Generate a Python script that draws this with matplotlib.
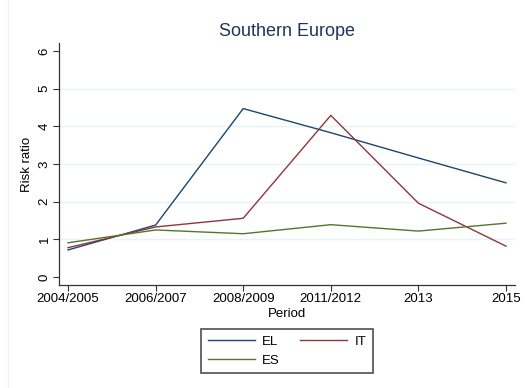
import matplotlib
matplotlib.use("Agg")
import matplotlib.pyplot as plt
from matplotlib.lines import Line2D

plt.rcParams['font.family'] = ['Liberation Sans', 'DejaVu Sans']

periods = ["2004/2005", "2006/2007", "2008/2009", "2011/2012", "2013", "2015"]
el = [0.72, 1.38, 4.47, 3.83, 3.16, 2.50]
it = [0.78, 1.33, 1.56, 4.29, 1.96, 0.82]
es = [0.91, 1.25, 1.15, 1.39, 1.22, 1.43]
yticks = [0, 1, 2, 3, 4, 5, 6]

fig = plt.figure(figsize=(5.31, 3.88), dpi=100)
ax = fig.add_axes([59 / 531, 1 - 285 / 388, (515 - 59) / 531, (285 - 43) / 388])

x = list(range(len(periods)))
for yv in yticks[1:-1]:
    ax.axhline(yv, color="#eaf2f3", lw=1.0, zorder=0)

l_el, = ax.plot(x, el, color="#1a476f", lw=1.0, label="EL")
l_it, = ax.plot(x, it, color="#90353b", lw=1.0, label="IT")
l_es, = ax.plot(x, es, color="#55752f", lw=1.0, label="ES")

ax.set_xlim(-0.103, 5.103)
ax.set_ylim(-0.21, 6.21)
ax.set_xticks(x)
ax.set_xticklabels(periods, fontsize=9.5)
ax.set_yticks(yticks)
ax.set_yticklabels([str(v) for v in yticks], fontsize=9.5, rotation=90, va="center")
ax.tick_params(length=4, width=0.8, color="#333333", pad=2)

for s in ("top", "right"):
    ax.spines[s].set_visible(False)
for s in ("left", "bottom"):
    ax.spines[s].set_color("#333333")
    ax.spines[s].set_linewidth(0.9)

ax.set_xlabel("Period", fontsize=9.5, labelpad=2)
ax.set_ylabel("Risk ratio", fontsize=9.5, labelpad=4)
ax.set_title("Southern Europe", fontsize=13, color="#1e3560", pad=5)

# legend fills column-wise: EL, ES in the first column, IT in the second
leg = fig.legend(
    handles=[l_el, l_es, l_it], labels=["EL", "ES", "IT"],
    loc="upper center", bbox_to_anchor=(287 / 531, 1 - 329 / 388),
    ncol=2, fontsize=9.5, frameon=True, fancybox=False,
    handlelength=3.6, columnspacing=1.5, handletextpad=0.55,
    borderpad=0.5, labelspacing=0.5, borderaxespad=0,
)
leg.get_frame().set_edgecolor("#222222")
leg.get_frame().set_linewidth(1.2)

# faint outer border on the left
fig.add_artist(Line2D([7.5 / 531, 7.5 / 531], [0, 1], color="#f0f0f0", lw=1.0))

fig.savefig("out.png", dpi=100)
